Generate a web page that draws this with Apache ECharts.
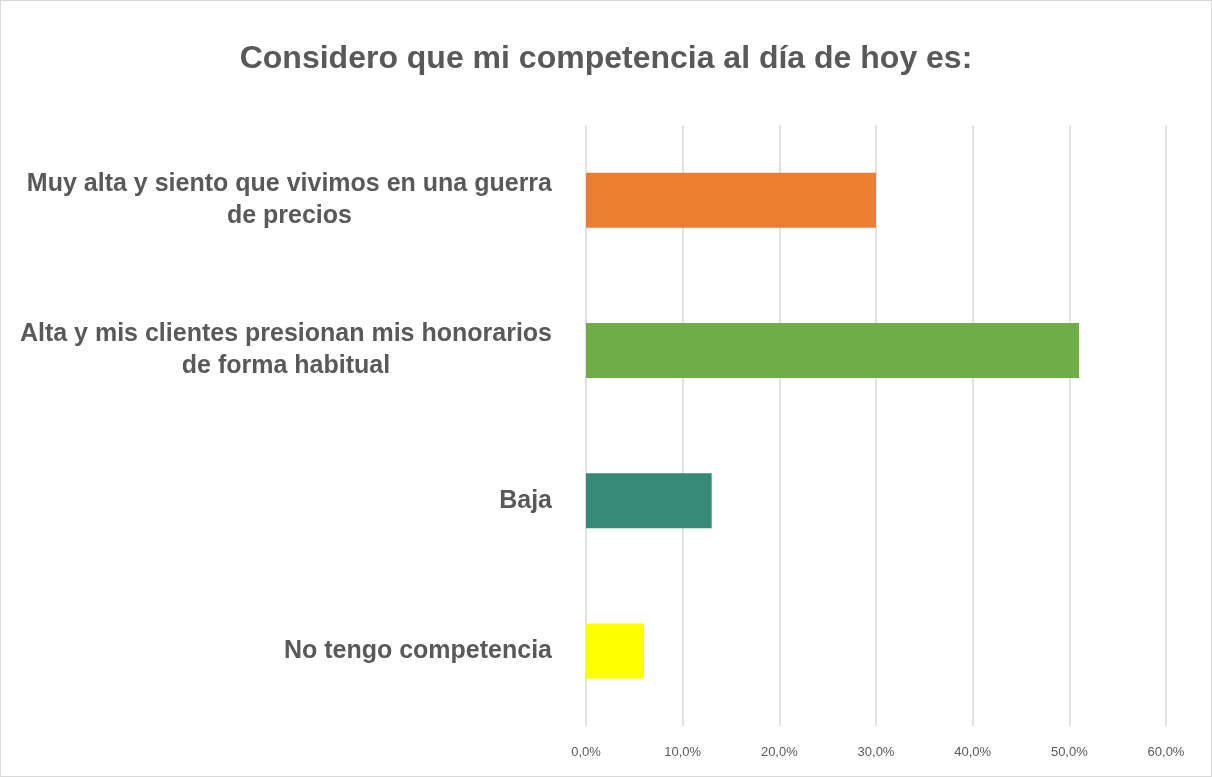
<!DOCTYPE html>
<html>
<head>
<meta charset="utf-8">
<script src="https://cdn.jsdelivr.net/npm/echarts@6/dist/echarts.min.js"></script>
<style>
  html, body { margin: 0; padding: 0; background: #fff; }
  #chart { width: 1212px; height: 777px; box-sizing: border-box; border: 1px solid #d9d9d9; }
</style>
</head>
<body>
<div id="chart"></div>
<script>
const categories = [
  'Muy alta y siento que vivimos en una guerra\nde precios',
  'Alta y mis clientes presionan mis honorarios\nde forma habitual',
  'Baja',
  'No tengo competencia'
];
const values = [30.0, 51.0, 13.0, 6.0];
const barColors = ['#ED7D31', '#70AD47', '#358A78', '#FFFF00'];

const myChart = echarts.init(document.getElementById('chart'));
myChart.setOption({
  animation: false,
  title: {
    text: 'Considero que mi competencia al día de hoy es:',
    left: 'center',
    top: 37,
    textStyle: {
      color: '#595959',
      fontFamily: 'Liberation Sans',
      fontWeight: 'bold',
      fontSize: 32
    }
  },
  grid: {
    left: 585,
    right: 45,
    top: 124,
    bottom: 50
  },
  xAxis: {
    type: 'value',
    min: 0,
    max: 60,
    interval: 10,
    axisLabel: {
      color: '#595959',
      fontFamily: 'Liberation Sans',
      fontSize: 13,
      margin: 20,
      formatter: v => v.toFixed(1).replace('.', ',') + '%'
    },
    axisLine: { show: false },
    axisTick: { show: false },
    splitLine: { lineStyle: { color: '#d9d9d9', width: 1.5 } }
  },
  yAxis: {
    type: 'category',
    inverse: true,
    data: categories,
    axisLine: { show: false },
    axisTick: { show: false },
    axisLabel: {
      margin: 34,
      formatter: v => v.split('\n').map(s => '{c|' + s + '}').join('\n'),
      rich: {
        c: {
          align: 'center',
          color: '#595959',
          fontFamily: 'Liberation Sans',
          fontWeight: 'bold',
          fontSize: 25,
          lineHeight: 32
        }
      }
    }
  },
  series: [{
    type: 'bar',
    barWidth: 55,
    data: values.map((v, i) => ({ value: v, itemStyle: { color: barColors[i] } }))
  }]
});
</script>
</body>
</html>
